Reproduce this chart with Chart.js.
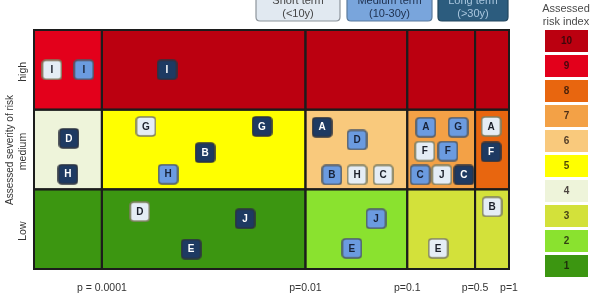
<!DOCTYPE html>
<html>
<head>
<meta charset="utf-8">
<script src="https://cdn.jsdelivr.net/npm/chart.js@4/dist/chart.umd.min.js"></script>
<style>
  body { margin: 0; background: #fff; }
  canvas { display: block; }
</style>
</head>
<body>
<canvas id="matrix" width="600" height="300"></canvas>
<script>
// column borders on the probability axis (p = 0.0001, 0.01, 0.1, 0.5, 1)
const colBounds = [0, 2, 8, 11, 13, 14];
const xTickValues = [2, 8, 11, 13, 14];
const xTickLabels = ['p = 0.0001', 'p=0.01', 'p=0.1', 'p=0.5', 'p=1'];
const rowBounds = [0, 1, 2, 3];
const rowLabels = ['Low', 'medium', 'high'];

// risk index of each cell, low -> high row
const riskLow = [1, 1, 2, 3, 3];
const riskMedium = [4, 5, 6, 7, 8];
const riskHigh = [9, 10, 10, 10, 10];
const legendLevels = [10, 9, 8, 7, 6, 5, 4, 3, 2, 1];
const riskColors = {
  1: '#3c9611', 2: '#8ae22f', 3: '#d3e13a', 4: '#eef4da', 5: '#ffff00',
  6: '#f9c97c', 7: '#f3a146', 8: '#e8660f', 9: '#e3001b', 10: '#bb0010'
};

// short term (<10y)
const shortLabels = ['I', 'G', 'D', 'H', 'C', 'F', 'J', 'A', 'E', 'B'];
const shortX = [0.53, 3.30, 3.12, 9.52, 10.29, 11.52, 12.02, 13.47, 11.91, 13.50];
const shortY = [2.50, 1.79, 0.72, 1.18, 1.18, 1.48, 1.18, 1.79, 0.26, 0.78];

// medium term (10-30y)
const mediumLabels = ['I', 'H', 'D', 'B', 'A', 'G', 'F', 'C', 'J', 'E'];
const mediumX = [1.47, 3.95, 9.52, 8.78, 11.55, 12.50, 12.20, 11.38, 10.08, 9.37];
const mediumY = [2.50, 1.19, 1.62, 1.18, 1.78, 1.78, 1.48, 1.18, 0.63, 0.26];

// long term (>30y)
const longLabels = ['I', 'D', 'H', 'G', 'B', 'A', 'C', 'F', 'J', 'E'];
const longX = [3.92, 1.03, 1.00, 6.72, 5.04, 8.49, 12.67, 13.47, 6.22, 4.63];
const longY = [2.50, 1.64, 1.19, 1.79, 1.46, 1.78, 1.18, 1.47, 0.63, 0.25];

const FONT = '"Liberation Sans", Arial, sans-serif';

function rrect(g, x, y, w, h, r) {
  g.beginPath();
  g.moveTo(x + r, y);
  g.lineTo(x + w - r, y);
  g.quadraticCurveTo(x + w, y, x + w, y + r);
  g.lineTo(x + w, y + h - r);
  g.quadraticCurveTo(x + w, y + h, x + w - r, y + h);
  g.lineTo(x + r, y + h);
  g.quadraticCurveTo(x, y + h, x, y + h - r);
  g.lineTo(x, y + r);
  g.quadraticCurveTo(x, y, x + r, y);
  g.closePath();
}

function makeMarker(fill, stroke) {
  const c = document.createElement('canvas');
  c.width = 21; c.height = 21;
  const g = c.getContext('2d');
  g.fillStyle = fill;
  g.strokeStyle = stroke;
  g.lineWidth = 1.6;
  rrect(g, 1, 1, 19, 19, 3.5);
  g.fill();
  g.stroke();
  return c;
}

function pts(xs, ys) {
  return xs.map((x, i) => ({ x: x, y: ys[i] }));
}

const series = [
  { label: 'Short term (<10y)', names: shortLabels, data: pts(shortX, shortY),
    marker: makeMarker('#e5edf5', '#7f7f62'), text: '#1b1f2a' },
  { label: 'Medium term (10-30y)', names: mediumLabels, data: pts(mediumX, mediumY),
    marker: makeMarker('#6b9be0', '#4d5a6a'), text: '#18233a' },
  { label: 'Long term (>30y)', names: longLabels, data: pts(longX, longY),
    marker: makeMarker('#1e3a62', '#2d3340'), text: '#ffffff' }
];

const matrixPlugin = {
  id: 'matrix',
  beforeDatasetsDraw(chart) {
    const c = chart.ctx, xs = chart.scales.x, ys = chart.scales.y;
    const rows = [riskLow, riskMedium, riskHigh];
    c.save();
    rows.forEach((row, r) => {
      const y1 = ys.getPixelForValue(rowBounds[r + 1]);
      const y0 = ys.getPixelForValue(rowBounds[r]);
      row.forEach((lvl, k) => {
        const x0 = xs.getPixelForValue(colBounds[k]);
        const x1 = xs.getPixelForValue(colBounds[k + 1]);
        c.fillStyle = riskColors[lvl];
        c.fillRect(x0, y1, x1 - x0, y0 - y1);
      });
    });
    c.strokeStyle = '#1c1c1c';
    c.lineWidth = 2;
    rows.forEach((row, r) => {
      const y1 = ys.getPixelForValue(rowBounds[r + 1]);
      const y0 = ys.getPixelForValue(rowBounds[r]);
      row.forEach((lvl, k) => {
        const x0 = xs.getPixelForValue(colBounds[k]);
        const x1 = xs.getPixelForValue(colBounds[k + 1]);
        c.strokeRect(x0, y1, x1 - x0, y0 - y1);
      });
    });
    c.restore();
  },
  afterDatasetsDraw(chart) {
    const c = chart.ctx;
    c.save();
    c.font = 'bold 10px ' + FONT;
    c.textAlign = 'center';
    c.textBaseline = 'middle';
    series.forEach((s, i) => {
      c.fillStyle = s.text;
      chart.getDatasetMeta(i).data.forEach((el, j) => {
        c.fillText(s.names[j], el.x, el.y + 0.5);
      });
    });
    c.restore();
  },
  afterDraw(chart) {
    const c = chart.ctx, xs = chart.scales.x, ys = chart.scales.y;
    c.save();
    // probability ticks
    c.fillStyle = '#333';
    c.font = '10.5px ' + FONT;
    c.textAlign = 'center';
    c.textBaseline = 'middle';
    xTickValues.forEach((v, i) => {
      c.fillText(xTickLabels[i], xs.getPixelForValue(v), 288);
    });
    c.fillStyle = '#888';
    c.fillText('Assessed probability of risk', 300, 305);
    c.fillStyle = '#333';
    // severity labels
    rowLabels.forEach((t, r) => {
      const y = ys.getPixelForValue((rowBounds[r] + rowBounds[r + 1]) / 2);
      c.save();
      c.translate(23, y + 2);
      c.rotate(-Math.PI / 2);
      c.fillText(t, 0, 0);
      c.restore();
    });
    c.save();
    c.translate(10, 150);
    c.rotate(-Math.PI / 2);
    c.font = '10px ' + FONT;
    c.fillText('Assessed severity of risk', 0, 0);
    c.restore();
    // time horizon boxes
    const boxes = [
      { x: 256, w: 84, fill: '#e1e9f1', stroke: '#8e959c', text: '#444' },
      { x: 347, w: 85, fill: '#79a5dc', stroke: '#5b7b9d', text: '#1d2f4d' },
      { x: 438, w: 70, fill: '#2c5c7e', stroke: '#22465e', text: '#a9c6de' }
    ];
    boxes.forEach((b, i) => {
      const parts = series[i].label.split(' (');
      c.fillStyle = b.fill;
      c.strokeStyle = b.stroke;
      c.lineWidth = 1.2;
      rrect(c, b.x, -12, b.w, 33, 4);
      c.fill();
      c.stroke();
      c.fillStyle = b.text;
      c.font = '11px ' + FONT;
      c.fillText(parts[0], b.x + b.w / 2, 1);
      c.fillText('(' + parts[1], b.x + b.w / 2, 14);
    });
    // risk index legend
    c.fillStyle = '#4a4a4a';
    c.font = '11px ' + FONT;
    c.fillText('Assessed', 566, 9);
    c.fillText('risk index', 566, 22);
    c.font = 'bold 10px ' + FONT;
    legendLevels.forEach((lvl, i) => {
      const y = 30 + i * 25;
      c.fillStyle = riskColors[lvl];
      c.fillRect(545, y, 43, 22);
      c.fillStyle = 'rgba(20,10,10,0.75)';
      c.fillText(String(lvl), 566.5, y + 11.5);
    });
    c.restore();
  }
};

new Chart(document.getElementById('matrix'), {
  type: 'scatter',
  data: {
    datasets: series.map(s => ({
      label: s.label,
      data: s.data,
      pointStyle: s.marker,
      pointRadius: 10,
      pointHoverRadius: 10
    }))
  },
  options: {
    responsive: false,
    devicePixelRatio: 1,
    animation: false,
    layout: { padding: { left: 34, top: 30, right: 91, bottom: 31 } },
    scales: {
      x: { type: 'linear', min: 0, max: 14, display: false },
      y: { type: 'linear', min: 0, max: 3, display: false }
    },
    plugins: {
      legend: { display: false },
      tooltip: { enabled: false }
    }
  },
  plugins: [matrixPlugin]
});
</script>
</body>
</html>
